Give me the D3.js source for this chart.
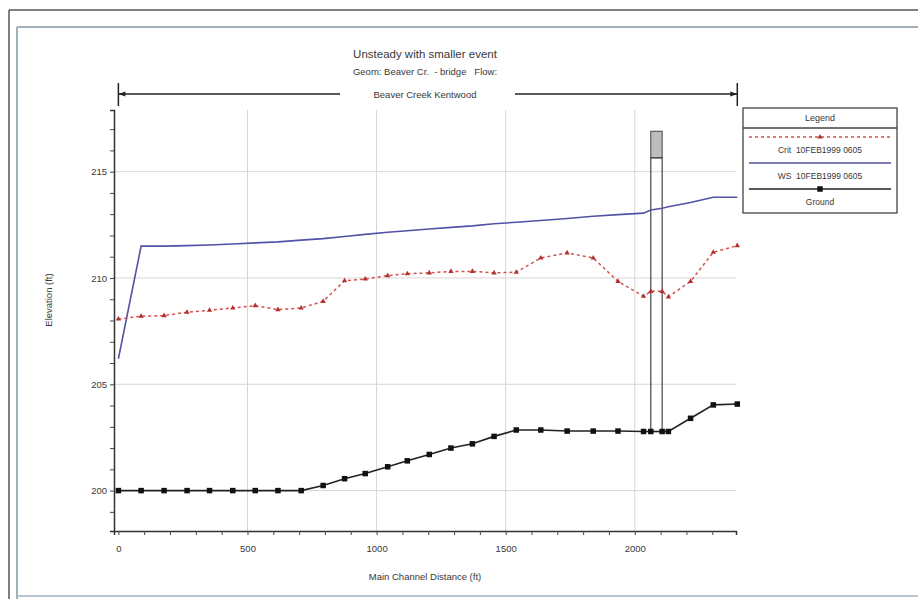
<!DOCTYPE html>
<html>
<head>
<meta charset="utf-8">
<script src="https://cdn.jsdelivr.net/npm/d3@7"></script>
<style>
  body { margin: 0; background: #fff; }
  svg { display: block; font-family: "Liberation Sans", Arial, sans-serif; }
  text { fill: #383838; white-space: pre; }
</style>
</head>
<body>
<svg id="chart" width="918" height="599"></svg>
<script>
// cross-section stations (ft) and elevations (ft)
var stations = [0, 88, 177, 266, 353, 443, 530, 618, 708, 793, 876, 956, 1043, 1119, 1204,
  1288, 1371, 1455, 1541, 1636, 1738, 1839, 1935, 2034, 2062, 2106, 2130, 2216, 2304, 2397]
var groundElev = [200, 200, 200, 200, 200, 200, 200, 200, 200, 200.24, 200.56, 200.8, 201.12, 201.4, 201.7,
  202.0, 202.2, 202.55, 202.85, 202.85, 202.8, 202.8, 202.8, 202.78, 202.78, 202.78, 202.78, 203.4, 204.03, 204.07]
var wsElev = [206.2, 211.5, 211.5, 211.52, 211.55, 211.6, 211.65, 211.7, 211.78, 211.85, 211.95, 212.05, 212.15, 212.22, 212.3,
  212.38, 212.45, 212.55, 212.62, 212.7, 212.8, 212.9, 212.98, 213.05, 213.2, 213.28, 213.35, 213.55, 213.8, 213.8]
var critElev = [208.07, 208.2, 208.23, 208.39, 208.48, 208.59, 208.7, 208.51, 208.59, 208.9, 209.87, 209.95, 210.11, 210.2, 210.24,
  210.31, 210.31, 210.24, 210.27, 210.94, 211.18, 210.94, 209.84, 209.14, 209.37, 209.37, 209.11, 209.84, 211.21, 211.52]

var bridgeStations = [2062, 2106]
var bridgeHighChord = 216.9
var bridgeLowChord = 215.65

var xTicks = [0, 500, 1000, 1500, 2000]
var yTicks = [200, 205, 210, 215]
var legendLabels = ['Crit  10FEB1999 0605', 'WS  10FEB1999 0605', 'Ground']

var svg = d3.select('#chart')

// window frame
svg.append('line').attr('x1', 9).attr('x2', 918).attr('y1', 10).attr('y2', 10).attr('stroke', '#555').attr('stroke-width', 1.5)
svg.append('line').attr('x1', 9).attr('x2', 9).attr('y1', 10).attr('y2', 599).attr('stroke', '#555').attr('stroke-width', 1.5)
svg.append('line').attr('x1', 17).attr('x2', 918).attr('y1', 27).attr('y2', 27).attr('stroke', '#9fb0b8').attr('stroke-width', 2)
svg.append('line').attr('x1', 17).attr('x2', 17).attr('y1', 27).attr('y2', 599).attr('stroke', '#9fb0b8').attr('stroke-width', 2)
svg.append('line').attr('x1', 17).attr('x2', 918).attr('y1', 596).attr('y2', 596).attr('stroke', '#b7c4cc').attr('stroke-width', 2)

var x = d3.scaleLinear().domain([-17, 2392]).range([114, 736])
var y = d3.scaleLinear().domain([198.1, 217.9]).range([531, 110])

// grid
var grid = svg.append('g').attr('stroke', '#d6d6d6').attr('stroke-width', 1)
grid.selectAll('.gx').data(xTicks.slice(1)).enter().append('line')
  .attr('x1', d => x(d)).attr('x2', d => x(d)).attr('y1', y.range()[1]).attr('y2', y.range()[0])
grid.selectAll('.gy').data(yTicks).enter().append('line')
  .attr('x1', x.range()[0]).attr('x2', x.range()[1]).attr('y1', d => y(d)).attr('y2', d => y(d))

// axes
var xAxis = d3.axisBottom(x).tickValues(d3.range(0, 2400, 100)).tickSize(4)
  .tickFormat(d => xTicks.indexOf(d) >= 0 ? d : '')
var gx = svg.append('g').attr('transform', 'translate(0,' + y.range()[0] + ')').call(xAxis)
var yAxis = d3.axisLeft(y).tickValues(d3.range(199, 218, 1)).tickSize(4)
  .tickFormat(d => yTicks.indexOf(d) >= 0 ? d : '')
var gy = svg.append('g').attr('transform', 'translate(' + x.range()[0] + ',0)').call(yAxis)
;[gx, gy].forEach(function(g) {
  g.select('.domain').attr('stroke', '#333').attr('stroke-width', 1.5)
  g.selectAll('.tick line').attr('stroke', '#444')
  g.selectAll('.tick text').attr('font-size', 9.5).attr('fill', '#383838')
    .attr('font-family', '"Liberation Sans", Arial, sans-serif')
})
gx.selectAll('.tick text').attr('dy', '1.45em')

// titles
svg.append('text').attr('x', 425).attr('y', 58).attr('text-anchor', 'middle').attr('font-size', 11.5)
  .text('Unsteady with smaller event')
svg.append('text').attr('x', 425).attr('y', 75).attr('text-anchor', 'middle').attr('font-size', 9.5)
  .text('Geom: Beaver Cr.  - bridge   Flow:')
svg.append('text').attr('x', 425).attr('y', 98).attr('text-anchor', 'middle').attr('font-size', 9.5)
  .text('Beaver Creek Kentwood')
svg.append('text').attr('x', 425).attr('y', 580).attr('text-anchor', 'middle').attr('font-size', 9.5)
  .text('Main Channel Distance (ft)')
svg.append('text').attr('transform', 'translate(52,300) rotate(-90)').attr('text-anchor', 'middle').attr('font-size', 9.5)
  .text('Elevation (ft)')

// reach bracket
var br = svg.append('g').attr('stroke', '#222').attr('stroke-width', 1.5)
var bx0 = x(stations[0]), bx1 = x(stations[stations.length - 1])
br.append('line').attr('x1', bx0).attr('x2', 340).attr('y1', 94).attr('y2', 94)
br.append('line').attr('x1', 515).attr('x2', bx1).attr('y1', 94).attr('y2', 94)
br.append('line').attr('x1', bx0).attr('x2', bx0).attr('y1', 83).attr('y2', 106)
br.append('line').attr('x1', bx1).attr('x2', bx1).attr('y1', 83).attr('y2', 106)
svg.append('path').attr('d', 'M' + bx0 + ',94 l7,-2.5 v5 z').attr('fill', '#222')
svg.append('path').attr('d', 'M' + bx1 + ',94 l-7,-2.5 v5 z').attr('fill', '#222')

// bridge
var bxL = x(bridgeStations[0]), bxR = x(bridgeStations[1])
svg.append('rect').attr('x', bxL).attr('y', y(bridgeHighChord)).attr('width', bxR - bxL)
  .attr('height', y(bridgeLowChord) - y(bridgeHighChord)).attr('fill', '#bdbdbd').attr('stroke', '#444')
svg.append('rect').attr('x', bxL).attr('y', y(bridgeLowChord)).attr('width', bxR - bxL)
  .attr('height', y(groundElev[stations.indexOf(bridgeStations[0])]) - y(bridgeLowChord))
  .attr('fill', 'none').attr('stroke', '#444').attr('stroke-width', 1.2)

var pts = function(vals) { return stations.map((s, i) => [s, vals[i]]) }
var line = d3.line().x(d => x(d[0])).y(d => y(d[1]))

// water surface
svg.append('path').datum(pts(wsElev)).attr('d', line).attr('fill', 'none')
  .attr('stroke', '#5252a6').attr('stroke-width', 1.6)

// critical depth
svg.append('path').datum(pts(critElev)).attr('d', line).attr('fill', 'none')
  .attr('stroke', '#d2504e').attr('stroke-width', 1.5).attr('stroke-dasharray', '3,3')
svg.selectAll('.crit').data(pts(critElev)).enter().append('path')
  .attr('d', d3.symbol().type(d3.symbolTriangle).size(12))
  .attr('transform', d => 'translate(' + x(d[0]) + ',' + y(d[1]) + ')')
  .attr('fill', '#b03030')

// ground
svg.append('path').datum(pts(groundElev)).attr('d', line).attr('fill', 'none')
  .attr('stroke', '#222').attr('stroke-width', 1.6)
svg.selectAll('.gnd').data(pts(groundElev)).enter().append('rect')
  .attr('x', d => x(d[0]) - 2.75).attr('y', d => y(d[1]) - 2.75).attr('width', 5.5).attr('height', 5.5)
  .attr('fill', '#111')

// legend
var lg = svg.append('g').attr('transform', 'translate(743,108)')
lg.append('rect').attr('width', 154).attr('height', 105).attr('fill', '#fff').attr('stroke', '#444').attr('stroke-width', 1.3)
lg.append('line').attr('x1', 0).attr('x2', 154).attr('y1', 20).attr('y2', 20).attr('stroke', '#444').attr('stroke-width', 1.3)
lg.append('text').attr('x', 77).attr('y', 13).attr('text-anchor', 'middle').attr('font-size', 9).text('Legend')
lg.append('line').attr('x1', 6).attr('x2', 148).attr('y1', 29).attr('y2', 29)
  .attr('stroke', '#d2504e').attr('stroke-width', 1.5).attr('stroke-dasharray', '3,3')
lg.append('path').attr('d', d3.symbol().type(d3.symbolTriangle).size(12)).attr('transform', 'translate(77,29)').attr('fill', '#b03030')
lg.append('line').attr('x1', 6).attr('x2', 148).attr('y1', 55).attr('y2', 55).attr('stroke', '#5252a6').attr('stroke-width', 1.6)
lg.append('line').attr('x1', 6).attr('x2', 148).attr('y1', 81).attr('y2', 81).attr('stroke', '#222').attr('stroke-width', 1.6)
lg.append('rect').attr('x', 74.25).attr('y', 78.25).attr('width', 5.5).attr('height', 5.5).attr('fill', '#111')
lg.selectAll('.lt').data(legendLabels).enter().append('text')
  .attr('x', 77).attr('y', (d, i) => 45 + i * 26).attr('text-anchor', 'middle').attr('font-size', 8.5).text(d => d)
</script>
</body>
</html>
